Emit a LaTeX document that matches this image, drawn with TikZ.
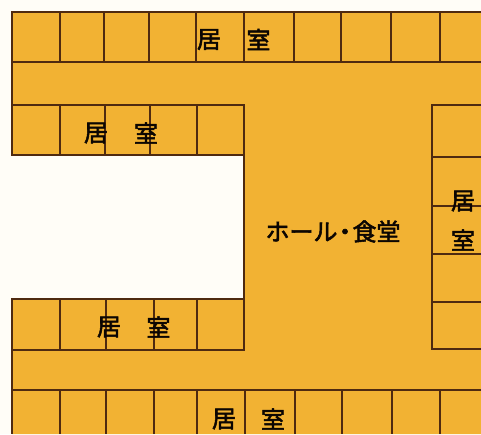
\documentclass[tikz,border=0pt]{standalone}
\usepackage{fontspec}
\newfontfamily\cjk[FakeBold=2.2]{Noto Sans CJK JP}
\definecolor{paper}{HTML}{FFFDF7}
\definecolor{floorc}{HTML}{F2B233}
\definecolor{wallc}{HTML}{4F2A10}
\tikzset{
  wall/.style={draw=wallc,line width=1.6pt},
  roomlabel/.style={inner sep=0pt,text=black!85!wallc,font=\cjk\fontsize{24}{24}\selectfont},
  halllabel/.style={inner sep=0pt,text=black!85!wallc,font=\cjk\fontsize{24}{24}\selectfont}
}
\begin{document}
\begin{tikzpicture}[x=1pt,y=-1pt]
\useasboundingbox (0,0) rectangle (481,434);
\fill[paper] (0,0) rectangle (481,434);
\fill[floorc] (12,12) -- (481,12) -- (481,434) -- (12,434) -- (12,299) -- (244,299) -- (244,155) -- (12,155) -- cycle;
% top row
\draw[wall] (481,12) -- (12,12) -- (12,155) -- (244,155) -- (244,105) -- (12,105);
\draw[wall] (12,62) -- (481,62);
\foreach \x in {60,104,149,196,244,294,341,391,440} \draw[wall] (\x,12) -- (\x,62);
% second row
\foreach \x in {60,105,150,197} \draw[wall] (\x,105) -- (\x,155);
\draw[wall] (244,155) -- (244,299);
% third row
\draw[wall] (12,434) -- (12,299) -- (244,299) -- (244,350) -- (12,350);
\foreach \x in {60,106,154,197} \draw[wall] (\x,299) -- (\x,350);
% bottom row
\draw[wall] (12,390) -- (481,390);
\foreach \x in {60,106,154,197,245,295,342,392,440} \draw[wall] (\x,390) -- (\x,434);
% right block
\draw[wall] (481,105) -- (432,105) -- (432,349) -- (481,349);
\foreach \y in {157,206,254,302} \draw[wall] (432,\y) -- (481,\y);
% labels
\node[roomlabel] (a1) at (209,39.5) {居};
\node[roomlabel] (a2) at (258.5,39.5) {室};
\node[roomlabel] (b1) at (96,133) {居};
\node[roomlabel] (b2) at (146,133) {室};
\node[roomlabel] (c1) at (109,327) {居};
\node[roomlabel] (c2) at (158.5,327) {室};
\node[roomlabel] (d1) at (224,419) {居};
\node[roomlabel] (d2) at (273,419) {室};
\node[roomlabel] (e1) at (463,201) {居};
\node[roomlabel] (e2) at (463,240) {室};
\node[halllabel] (hall) at (333,231.5) {ホール\kern-4.5pt・\kern-4.5pt 食堂};
\end{tikzpicture}
\end{document}
